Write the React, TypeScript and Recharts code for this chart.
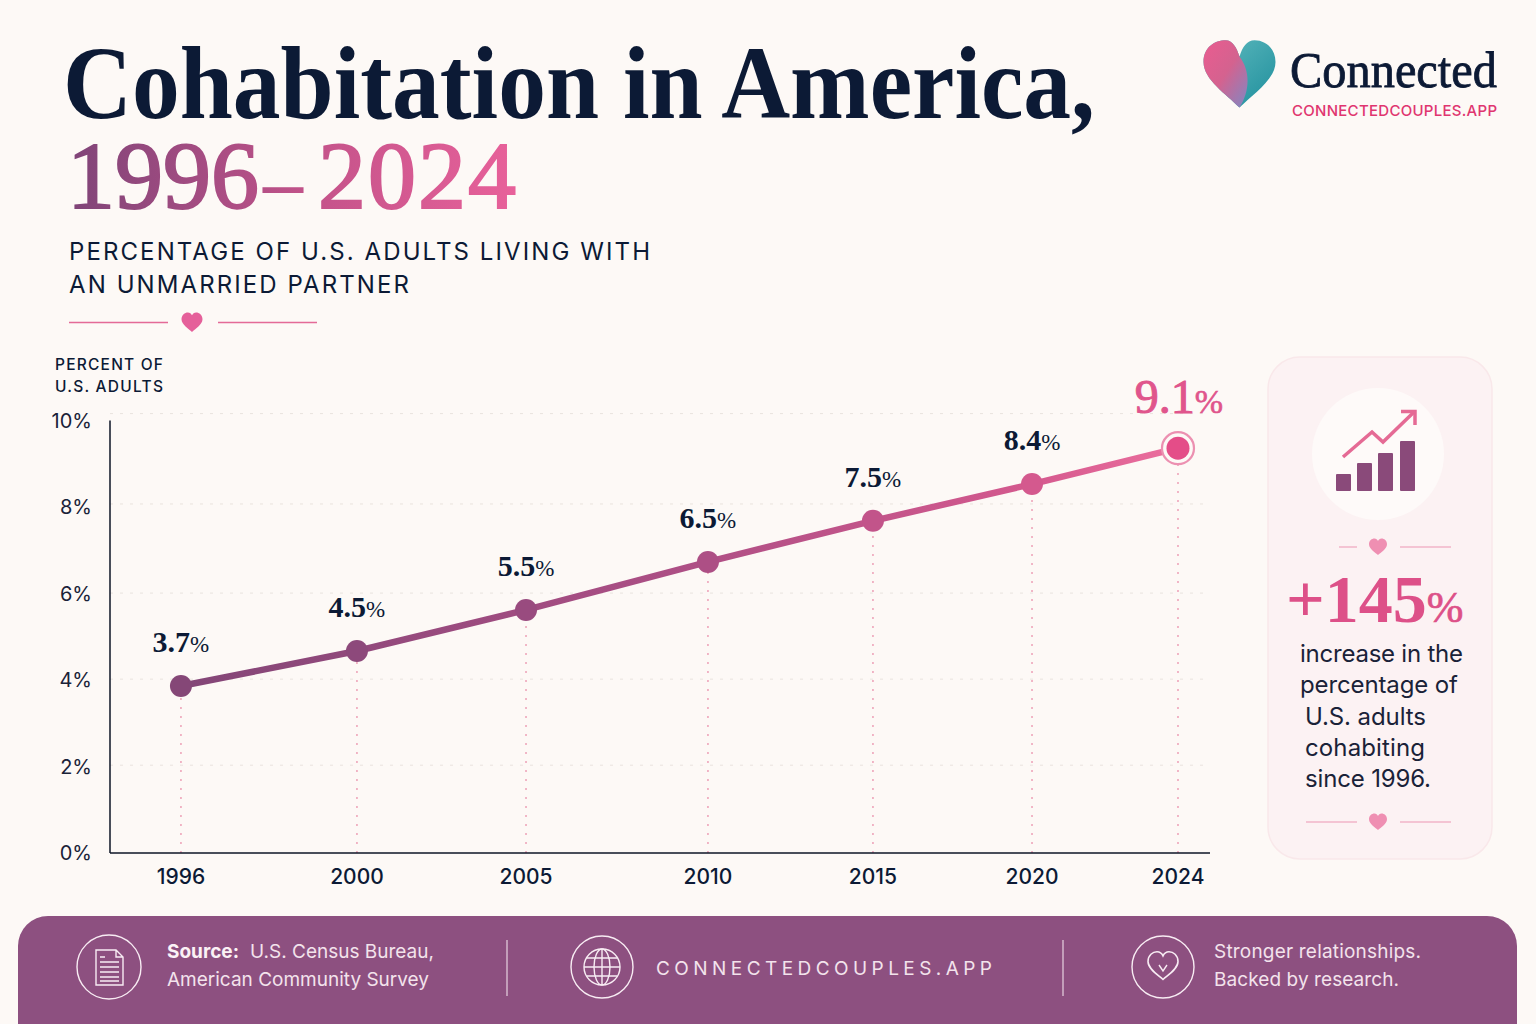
import React from "react";
import { ComposedChart, Line, XAxis, YAxis, CartesianGrid, ReferenceLine, LabelList } from "recharts";

const years = [1996, 2000, 2005, 2010, 2015, 2020, 2024];
const plotted = [3.86, 4.67, 5.62, 6.73, 7.68, 8.53, 9.36];
const valueLabels = ["3.7", "4.5", "5.5", "6.5", "7.5", "8.4", "9.1"];
const yTicks = [0, 2, 4, 6, 8, 10];
const gridValues = [2.03, 4.02, 6.01, 8.07];
const rows = years.map((year, i) => ({ year, share: plotted[i], label: valueLabels[i] }));

const NAVY = "#0c1a35";
const SANS = "Inter, 'Noto Sans', sans-serif";
const SERIF = "'Liberation Serif', serif";
const dotColors = ["#854777", "#8d497b", "#994b7f", "#ad4f85", "#c2548a", "#d4598e", "#e44d88"];

// The reference spaces its years unevenly, so the time axis is piecewise linear.
const axisStops: [number, number][] = [
  [1994, 0], [1996, 0.0645], [2000, 0.2245], [2005, 0.3782], [2010, 0.5436],
  [2015, 0.6936], [2020, 0.8382], [2024, 0.9709], [2027, 1],
];
function stopScale(dom: number[] = [0, 1], ran: number[] = [0, 1]) {
  let d = dom, r = ran;
  const s: any = (v: number) => {
    let f = 0;
    for (let i = 0; i < axisStops.length - 1; i++) {
      const [a, fa] = axisStops[i];
      const [b, fb] = axisStops[i + 1];
      if (v <= b || i === axisStops.length - 2) { f = fa + ((v - a) / (b - a)) * (fb - fa); break; }
    }
    return r[0] + f * (r[1] - r[0]);
  };
  s.domain = (x?: number[]) => (x ? ((d = x), s) : d);
  s.range = (x?: number[]) => (x ? ((r = x), s) : r);
  s.copy = () => stopScale(d, r);
  s.ticks = () => years;
  s.tickFormat = () => (v: number) => String(v);
  return s;
}
const yearScale = stopScale();

const HEART = "M0 .9 C-.3 .62 -1 .2 -1 -.3 C-1 -.72 -.68 -.95 -.4 -.95 C-.2 -.95 -.08 -.85 0 -.68 C.08 -.85 .2 -.95 .4 -.95 C.68 -.95 1 -.72 1 -.3 C1 .2 .3 .62 0 .9Z";
const LOGO_FULL = "M0 .92 C-.35 .55 -1 .15 -1 -.35 C-1 -.75 -.7 -.95 -.38 -.95 C-.2 -.95 -.08 -.75 0 -.5 C.08 -.75 .2 -.95 .42 -.95 C.72 -.95 1 -.72 1 -.35 C1 .15 .35 .55 0 .92Z";
const LOGO_LEFT = "M0 -.5 C-.08 -.75 -.2 -.95 -.38 -.95 C-.7 -.95 -1 -.75 -1 -.35 C-1 .15 -.35 .55 0 .92 C.3 .45 .3 -.1 0 -.5Z";
const Heart = ({ x, y, s, fill, stroke, sw }: any) => (
  <path d={HEART} transform={`translate(${x} ${y}) scale(${s})`} fill={fill ?? "none"} stroke={stroke} strokeWidth={sw ? sw / s : undefined} />
);

const ValueLabel = (p: any) => {
  const { x, y, value, index } = p;
  const last = index === years.length - 1;
  const color = last ? "#e0558c" : NAVY;
  return (
    <text x={x + (last ? 1 : 0)} y={y - (last ? 35 : 34)} textAnchor="middle" fontFamily={SERIF} fill={color}>
      <tspan fontSize={last ? 48 : 30} fontWeight={last ? 400 : 700} stroke={last ? color : undefined} strokeWidth={last ? 1 : undefined}>{value}</tspan>
      <tspan fontSize={last ? 34 : 23} stroke={last ? color : undefined} strokeWidth={last ? 0.6 : undefined}>%</tspan>
    </text>
  );
};

const Dot = (p: any) => {
  const { cx, cy, index } = p;
  if (index === years.length - 1)
    return (
      <g key={index}>
        <circle cx={cx} cy={cy} r={16} fill="#fdf9f6" stroke="#ec90b1" strokeWidth={2.2} />
        <circle cx={cx} cy={cy} r={11.5} fill={dotColors[index]} />
      </g>
    );
  return <circle key={index} cx={cx} cy={cy} r={11} fill={dotColors[index]} />;
};

const Backdrop = () => (
  <svg width={1536} height={1024} style={{ position: "absolute", left: 0, top: 0 }}>
    <defs>
      <linearGradient id="rangeGrad" gradientUnits="userSpaceOnUse" x1="68" x2="516" y1="0" y2="0">
        <stop offset="0" stopColor="#7f4478" />
        <stop offset="0.55" stopColor="#c4538a" />
        <stop offset="1" stopColor="#e8619a" />
      </linearGradient>
      <linearGradient id="logoL" x1="0" x2="1" y1="0" y2="1">
        <stop offset="0" stopColor="#ea5c90" />
        <stop offset="0.5" stopColor="#d4628f" />
        <stop offset="1" stopColor="#7f88c4" />
      </linearGradient>
      <linearGradient id="logoR" x1="0" x2="1" y1="0" y2="1">
        <stop offset="0" stopColor="#62bcc0" />
        <stop offset="1" stopColor="#1e8e9c" />
      </linearGradient>
    </defs>

    <text x={63} y={118} fontFamily={SERIF} fontWeight={700} fontSize={104} fill={NAVY} textLength={1032} lengthAdjust="spacingAndGlyphs">Cohabitation in America,</text>
    <text y={208} fontFamily={SERIF} fontWeight={400} fontSize={96} fill="url(#rangeGrad)" stroke="url(#rangeGrad)" strokeWidth={2}>
      <tspan x={67}>1996</tspan>
      <tspan x={264} fontSize={76}>–</tspan>
      <tspan x={318} letterSpacing={2}>2024</tspan>
    </text>
    <text x={69} y={260} fontFamily={SANS} fontWeight={400} fontSize={24} fill={NAVY} textLength={581}>PERCENTAGE OF U.S. ADULTS LIVING WITH</text>
    <text x={69} y={293} fontFamily={SANS} fontWeight={400} fontSize={24} fill={NAVY} textLength={340}>AN UNMARRIED PARTNER</text>
    <line x1={69} x2={168} y1={322.5} y2={322.5} stroke="#e46a97" strokeWidth={1.5} />
    <line x1={218} x2={317} y1={322.5} y2={322.5} stroke="#e46a97" strokeWidth={1.5} />
    <Heart x={192} y={322.5} s={10.5} fill="#e5609a" />

    <path d={LOGO_FULL} transform="translate(1239.5 74.5) scale(36)" fill="url(#logoR)" />
    <path d={LOGO_LEFT} transform="translate(1239.5 74.5) scale(36)" fill="url(#logoL)" />
    <text x={1290} y={87} fontFamily={SERIF} fontWeight={400} fontSize={50} fill={NAVY} stroke={NAVY} strokeWidth={0.8} textLength={207} lengthAdjust="spacingAndGlyphs">Connected</text>
    <text x={1292} y={116} fontFamily={SANS} fontWeight={500} fontSize={15} fill="#e0356f" textLength={205}>CONNECTEDCOUPLES.APP</text>

    <text x={55} y={370} fontFamily={SANS} fontWeight={500} fontSize={15.5} fill={NAVY} textLength={108}>PERCENT OF</text>
    <text x={55} y={392} fontFamily={SANS} fontWeight={500} fontSize={15.5} fill={NAVY} textLength={108}>U.S. ADULTS</text>

    <rect x={1268} y={357} width={224} height={502} rx={32} fill="#fcf2f3" stroke="#f9e8ea" strokeWidth={1.5} />
    <circle cx={1378} cy={454} r={66} fill="#fefaf9" />
    {[[1336, 474], [1357, 463], [1378, 453], [1400, 441]].map(([x, y]) => (
      <rect key={x} x={x} y={y} width={15} height={491 - y} rx={1} fill="#8a4a7a" />
    ))}
    <polyline points="1343,457 1372,432 1383,442 1414,412" fill="none" stroke="#e56a95" strokeWidth={3.5} />
    <polyline points="1401,411.5 1415,411.5 1415,425" fill="none" stroke="#e56a95" strokeWidth={3.5} />
    {[547, 822].map((y, i) => (
      <g key={y}>
        <line x1={i ? 1306 : 1339} x2={1357} y1={y} y2={y} stroke="#f2b4c8" strokeWidth={1.5} />
        <line x1={1400} x2={1451} y1={y} y2={y} stroke="#f2b4c8" strokeWidth={1.5} />
        <Heart x={1378} y={y} s={9} fill="#ef8fb2" />
      </g>
    ))}
    <text x={1286} y={622} fontFamily={SERIF} fill="#dd5088">
      <tspan fontSize={68} fontWeight={700}>+145</tspan>
      <tspan fontSize={44} stroke="#dd5088" strokeWidth={0.7}>%</tspan>
    </text>
    {[["increase in the", 1300, 662, 163], ["percentage of", 1300, 693, 158], ["U.S. adults", 1305, 725, 121], ["cohabiting", 1305, 756, 120], ["since 1996.", 1305, 787, 126]].map(([t, x, y, w]: any) => (
      <text key={t} x={x} y={y} fontFamily={SANS} fontSize={24} fill="#1a2238" textLength={w}>{t}</text>
    ))}

    <path d="M18 1024 V946 a30 30 0 0 1 30 -30 H1487 a30 30 0 0 1 30 30 V1024Z" fill="#8d5080" />
    <g fill="none" stroke="#f8ecf3" strokeWidth={1.4}>
      <circle cx={109} cy={967} r={32} />
      <path d="M96 950 H116 L123 957 V985 H96Z M116 950 V957 H123" />
      <path d="M100 957 H105 M100 962 H119 M100 967 H119 M100 972 H119 M100 977 H119 M100 981 H119" />
      <line x1={507} x2={507} y1={940} y2={996} strokeWidth={1} />
      <circle cx={602} cy={967} r={31} />
      <circle cx={602} cy={967} r={18} />
      <ellipse cx={602} cy={967} rx={8} ry={18} />
      <path d="M602 949 V985 M584 967 H620 M587 958 H617 M587 976 H617" />
      <line x1={1063} x2={1063} y1={940} y2={996} strokeWidth={1} />
      <circle cx={1163} cy={967} r={31} />
      <Heart x={1163} y={966} s={15} stroke="#f8ecf3" sw={1.6} />
      <path d="M1159 965 L1163 971 L1167 965" />
    </g>
    <g fontFamily={SANS} fontSize={19} fill="#f3e3ec">
      <text x={167} y={958}><tspan fontWeight={700} fill="#fbf2f6">Source:</tspan><tspan dx={11}>U.S. Census Bureau,</tspan></text>
      <text x={167} y={986} textLength={262}>American Community Survey</text>
      <text x={656} y={975} textLength={336}>CONNECTEDCOUPLES.APP</text>
      <text x={1214} y={958} textLength={207}>Stronger relationships.</text>
      <text x={1214} y={986} textLength={185}>Backed by research.</text>
    </g>
  </svg>
);

export default function App() {
  return (
    <div style={{ position: "absolute", left: 0, top: 0, width: 1536, height: 1024, background: "#fdf9f6", overflow: "hidden" }}>
      <Backdrop />
      <div style={{ position: "absolute", left: 0, top: 340 }}>
        <ComposedChart width={1300} height={580} data={rows} margin={{ top: 80.5, right: 90, bottom: 27, left: 30 }} style={{ overflow: "visible" }}>
          <defs>
            <linearGradient id="lineGrad" x1="0" x2="1" y1="0" y2="0">
              <stop offset="0" stopColor="#834677" />
              <stop offset="0.5" stopColor="#ad4f85" />
              <stop offset="0.85" stopColor="#d4598e" />
              <stop offset="1" stopColor="#ec6f9e" />
            </linearGradient>
          </defs>
          <CartesianGrid vertical={false} horizontalValues={gridValues} stroke="#e9e3de" strokeDasharray="3 7" />
          <ReferenceLine ifOverflow="visible" y={10.16} segment={[{ x: 1994.5, y: 10.16 }, { x: 2017.8, y: 10.16 }]} stroke="#e9e3de" strokeDasharray="3 7" />
          <XAxis
            dataKey="year"
            type="number"
            scale={yearScale}
            domain={[1994, 2027]}
            ticks={years}
            interval={0}
            height={40}
            tickLine={false}
            axisLine={{ stroke: "#0c1426", strokeWidth: 1.5 }}
            tick={{ fill: NAVY, fontSize: 21, fontWeight: 500, fontFamily: SANS }}
            tickMargin={10}
          />
          <YAxis
            type="number"
            domain={[0, 10]}
            ticks={yTicks}
            interval={0}
            width={80}
            tickLine={false}
            axisLine={{ stroke: "#0c1426", strokeWidth: 1.5 }}
            tickFormatter={(v: number) => `${v}%`}
            tick={{ fill: "#1a2238", fontSize: 20, fontFamily: SANS }}
            tickMargin={12}
          />
          {rows.map((r) => (
            <ReferenceLine key={r.year} segment={[{ x: r.year, y: 0 }, { x: r.year, y: r.share }]} stroke="#eea6bb" strokeWidth={1.6} strokeDasharray="2 7" />
          ))}
          <Line dataKey="share" type="linear" stroke="url(#lineGrad)" strokeWidth={6.5} dot={<Dot />} activeDot={false} isAnimationActive={false}>
            <LabelList dataKey="label" content={<ValueLabel />} />
          </Line>
        </ComposedChart>
      </div>
    </div>
  );
}
